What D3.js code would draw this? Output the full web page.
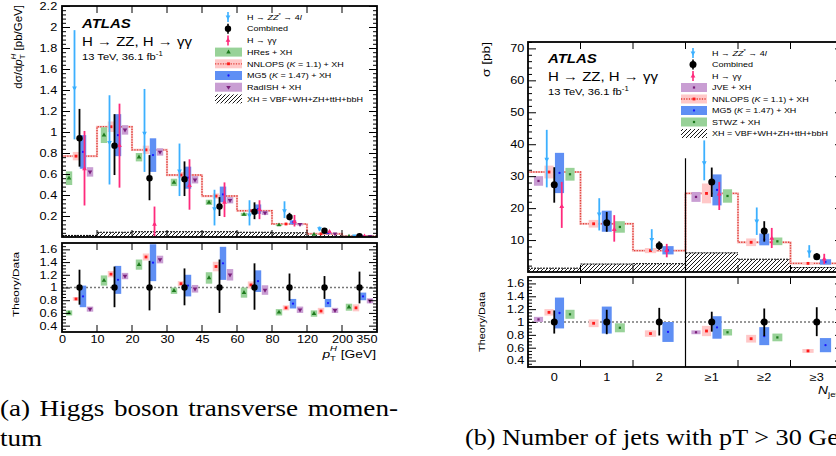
<!DOCTYPE html>
<html><head><meta charset="utf-8">
<script src="https://cdn.jsdelivr.net/npm/d3@7"></script>
<style>body{margin:0;background:#fff}svg{display:block}</style>
</head><body><svg id="c" width="836" height="456" style="font-family:'Liberation Sans',Arial,sans-serif"></svg>
<script>
// ---------------- DATA ----------------
const ptEdgeLabels = ["0","10","20","30","45","60","80","120","200","350"];
const njetLabels = ["0","1","2","≥1","≥2","≥3"];

// (a) d sigma / d pT  [pb/GeV], 9 bins
const aComb   = [0.94,0.87,0.56,0.55,0.29,0.24,0.19,0.060,0.008];
const aCombLo = [0.67,0.59,0.35,0.39,0.20,0.17,0.16,0.050,0.006];
const aCombHi = [1.22,1.17,0.78,0.72,0.38,0.33,0.23,0.070,0.010];
const aZZ     = [1.42,0.90,0.99,0.63,0.27,0.21,0.25,0.080,0.010];
const aZZLo   = [0.93,0.50,0.62,0.39,0.11,0.11,0.18,0.060,0.006];
const aZZHi   = [1.97,1.35,1.41,0.89,0.45,0.35,0.34,0.100,0.014];
const aGG     = [0.65,0.87,0.12,0.49,0.33,0.26,0.146,0.050,0.007];
const aGGLo   = [0.30,0.47,0.00,0.26,0.19,0.17,0.10,0.040,0.005];
const aGGHi   = [1.01,1.27,0.29,0.74,0.52,0.35,0.21,0.060,0.009];
const aHRes      = [0.56,0.97,0.76,0.52,0.33,0.215,0.114,0.025,0.005];
const aHResErr   = [0.065,0.075,0.04,0.035,0.025,0.015,0.008,0.004,0.001];
const aNNLOPS    = [0.77,1.05,0.83,0.59,0.39,0.25,0.124,0.030,0.005];
const aNNLOPSErr = [0.04,0.05,0.04,0.03,0.025,0.012,0.008,0.004,0.001];
const aMG5       = [0.81,0.97,0.78,0.565,0.405,0.265,0.14,0.035,0.007];
const aMG5Err    = [0.16,0.20,0.16,0.105,0.075,0.045,0.02,0.006,0.0015];
const aRadISH    = [0.62,1.02,0.81,0.545,0.35,0.23,0.12,0.030,0.006];
const aRadISHErr = [0.045,0.045,0.035,0.035,0.03,0.02,0.01,0.004,0.001];
const aXH        = [0.015,0.045,0.05,0.05,0.05,0.045,0.04,0.03,0.01];
// (a) ratio Theory/Data
const aRHRes   = [0.60,1.11,1.36,0.95,1.15,0.92,0.61,0.59,0.69];
const aRHResE  = [0.04,0.08,0.08,0.05,0.09,0.08,0.05,0.05,0.055];
const aRNNLOPS = [0.82,1.21,1.48,1.06,1.33,1.04,0.68,0.63,0.68];
const aRNNLOPSE= [0.03,0.05,0.055,0.04,0.075,0.055,0.04,0.05,0.055];
const aRMG5    = [0.86,1.12,1.39,1.03,1.38,1.10,0.745,0.755,0.86];
const aRMG5E   = [0.17,0.22,0.29,0.17,0.26,0.17,0.075,0.065,0.06];
const aRRadISH = [0.66,1.18,1.44,0.98,1.20,0.96,0.65,0.64,0.79];
const aRRadISHE= [0.04,0.05,0.06,0.06,0.09,0.075,0.05,0.04,0.04];
const aRCombLo = [0.73,0.69,0.64,0.72,0.60,0.65,0.79,0.82,0.75];
const aRCombHi = [1.28,1.33,1.42,1.30,1.44,1.38,1.22,1.18,1.25];

// (b) sigma [pb], 6 categories
const bComb   = [27.3,15.4,8.2,28.2,12.8,4.8];
const bCombLo = [21.7,12.6,6.9,23.5,9.5,3.9];
const bCombHi = [32.8,18.8,9.6,32.7,15.9,5.9];
const bZZ     = [35.3,18.2,10.2,34.2,16.0,6.3];
const bZZLo   = [26.5,13.0,6.7,28.7,11.6,4.5];
const bZZHi   = [44.5,23.1,13.4,41.2,20.2,8.4];
const bGG     = [20.5,13.3,6.7,24.4,10.5,4.0];
const bGGLo   = [13.8,9.5,4.6,19.4,7.5,2.5];
const bGGHi   = [28.2,17.8,8.8,28.2,13.8,5.7];
const bJVE       = [28.5,null,null,23.5,null,null];
const bJVEErr    = [1.5,null,null,1.55,null,null];
const bNNLOPS    = [31.3,15.1,6.7,24.6,9.3,2.7];
const bNNLOPSErr = [2.0,1.2,0.8,3.1,1.2,0.4];
const bMG5       = [31.0,15.9,6.8,25.7,10.2,3.15];
const bMG5Err    = [6.3,3.3,1.3,4.85,1.85,0.85];
const bSTWZ      = [30.6,14.1,null,23.8,9.6,null];
const bSTWZErr   = [2.0,1.8,null,2.1,1.2,null];
const bXH        = [1.2,2.5,2.6,6.0,4.0,1.4];
// (b) ratio
const bRJVE     = [1.04,null,null,0.84,null,null];
const bRJVEE    = [0.04,null,null,0.03,null,null];
const bRNNLOPS  = [1.15,0.98,0.82,0.86,0.74,0.55];
const bRNNLOPSE = [0.05,0.06,0.05,0.08,0.06,0.03];
const bRMG5     = [1.14,1.03,0.845,0.915,0.78,0.64];
const bRMG5E    = [0.24,0.21,0.155,0.175,0.14,0.11];
const bRSTWZ    = [1.12,0.91,null,0.84,0.76,null];
const bRSTWZE   = [0.07,0.07,null,0.05,0.06,null];
const bRCombLo  = [0.82,0.81,0.79,0.85,0.78,0.78];
const bRCombHi  = [1.18,1.19,1.22,1.16,1.21,1.23];

const legendA = ["H → ZZ* → 4l","Combined","H → γγ","HRes + XH","NNLOPS (K = 1.1) + XH","MG5 (K = 1.47) + XH","RadISH + XH","XH = VBF+WH+ZH+ttH+bbH"];
const legendB = ["H → ZZ* → 4l","Combined","H → γγ","JVE + XH","NNLOPS (K = 1.1) + XH","MG5 (K = 1.47) + XH","STWZ + XH","XH = VBF+WH+ZH+ttH+bbH"];
const captionA1 = ["(a)","Higgs","boson","transverse","momen-"];
const captionA2 = "tum";
const captionB = "(b) Number of jets with pT > 30 GeV";

// ---------------- STYLE ----------------
const COL = {zz:"#3cb0ff", gg:"#ff2a7c", comb:"#000",
  green:"#98d298", greenM:"#1d7a1d", red:"#ffc8c8", redM:"#ff1a1a", redLine:"#e2403a",
  blue:"#5f8ff4", blueM:"#1a1aff", purple:"#c99ed3", purpleM:"#7a1f7a"};
const SX = 1.2;
const SANS = "'Liberation Sans',Arial,sans-serif", SERIF = "'Liberation Serif','Times New Roman',serif";
const svg = d3.select("#c");
const defs = svg.append("defs");
defs.append("pattern").attr("id","hatch").attr("patternUnits","userSpaceOnUse")
  .attr("width",4).attr("height",4)
  .append("path").attr("d","M-1,1 l2,-2 M0,4 l4,-4 M3,5 l2,-2")
  .attr("stroke","#000").attr("stroke-width",0.9);

function stext(parent, x, y, o){
  const g = parent.append("g").attr("transform",`translate(${x},${y})`+(o.rot?` rotate(${o.rot})`:"")+` scale(${o.sx??SX},1)`);
  const t = g.append("text").attr("font-size",o.size).attr("text-anchor",o.anchor||"start").attr("fill","#000")
    .style("font-family", o.family||SANS);
  if(o.weight) t.attr("font-weight",o.weight);
  if(o.italic) t.attr("font-style","italic");
  if(o.len) t.attr("textLength",o.len).attr("lengthAdjust","spacingAndGlyphs");
  (o.parts||[{t:o.text}]).forEach(p=>{
    const s=t.append("tspan").text(p.t);
    if(p.i) s.attr("font-style","italic");
    if(p.fs) s.attr("font-size",p.fs);
    if(p.dy) s.attr("dy",p.dy);
    if(p.dx) s.attr("dx",p.dx);
  });
  return t;
}
function richLegend(s){
  if(s.startsWith("H → ZZ*")) return [{t:"H → "},{t:"ZZ",i:1},{t:"*",fs:5,dy:-3},{t:" → 4",dy:3},{t:"l",i:1}];
  const m = s.match(/^(.*\()K( = .*)$/);
  if(m) return [{t:m[1]},{t:"K",i:1},{t:m[2]}];
  return [{t:s}];
}
function marker(g, type, x, y, color, size){
  let d, rot="";
  if(type==="up") d=d3.symbol().type(d3.symbolTriangle).size(size)();
  else if(type==="down"){ d=d3.symbol().type(d3.symbolTriangle).size(size)(); rot=" rotate(180)"; }
  else if(type==="sq") d=d3.symbol().type(d3.symbolSquare).size(size)();
  else d=d3.symbol().type(d3.symbolCircle).size(size)();
  g.append("path").attr("d",d).attr("transform",`translate(${x},${y})${rot}`).attr("fill",color);
}
function cleanAxis(sel, fs){
  sel.attr("font-family",null).attr("font-size",null);
  sel.select(".domain").remove();
  sel.selectAll("line").attr("stroke","#000").attr("stroke-width",1);
  sel.selectAll("text").attr("fill","#000").attr("font-size",fs).style("font-family",SANS);
}
const fmt1 = d => d3.format(".1f")(d).replace(/\.0$/,"");
const boxW = step => Math.min(step*0.92, 6+step*0.3);

function drawPanel(P){
  const g = svg.append("g");
  const nB = P.nBins;
  const x = d3.scaleBand().domain(d3.range(nB)).range([P.left,P.right]);
  const xe = d3.scaleLinear().domain([0,nB]).range([P.left,P.right]);
  const w = x.bandwidth();
  const y = d3.scaleLinear().domain([0,P.yMax]).range([P.mainBot,P.mainTop]);
  const yr = d3.scaleLinear().domain([0.3,1.7]).range([P.ratBot,P.ratTop]);
  const clipM = "clipM"+P.id, clipR="clipR"+P.id;
  defs.append("clipPath").attr("id",clipM).append("rect").attr("x",P.left).attr("y",P.mainTop).attr("width",P.right-P.left).attr("height",P.mainBot-P.mainTop);
  defs.append("clipPath").attr("id",clipR).append("rect").attr("x",P.left).attr("y",P.ratTop).attr("width",P.right-P.left).attr("height",P.ratBot-P.ratTop);
  const gm = g.append("g").attr("clip-path",`url(#${clipM})`);
  const gr = g.append("g").attr("clip-path",`url(#${clipR})`);

  gm.selectAll("rect.xh").data(P.xh).join("rect").attr("x",(d,i)=>x(i)).attr("width",w)
    .attr("y",d=>y(d)).attr("height",d=>y(0)-y(d)).attr("fill","url(#hatch)");
  gm.selectAll("line.xh").data(P.xh).join("line").attr("x1",(d,i)=>x(i)).attr("x2",(d,i)=>x(i)+w)
    .attr("y1",d=>y(d)).attr("y2",d=>y(d)).attr("stroke","#000").attr("stroke-width",1).attr("stroke-dasharray","2,1");
  const stepPts = P.step.map((v,i)=>[xe(i),y(v)]).concat([[xe(nB),y(P.step[nB-1])]]);
  const line = d3.line().curve(d3.curveStepAfter);
  gm.append("path").attr("d",line(stepPts)).attr("fill","none").attr("stroke","#f7c0c0").attr("stroke-width",2.2);
  gm.append("path").attr("d",line(stepPts)).attr("fill","none").attr("stroke",COL.redLine).attr("stroke-width",1.4).attr("stroke-dasharray","1.3,1.3");
  if(P.sep!=null){
    g.append("line").attr("x1",xe(P.sep)).attr("x2",xe(P.sep)).attr("y1",y(P.sepTop)).attr("y2",P.mainBot).attr("stroke","#000").attr("stroke-width",1.2);
    g.append("line").attr("x1",xe(P.sep)).attr("x2",xe(P.sep)).attr("y1",P.ratTop).attr("y2",P.ratBot).attr("stroke","#000").attr("stroke-width",1.2);
  }
  gr.append("line").attr("x1",P.left).attr("x2",P.right).attr("y1",yr(1)).attr("y2",yr(1))
    .attr("stroke","#777").attr("stroke-width",1.4).attr("stroke-dasharray","2,2");

  function models(gg, ys, list){
    for(let b=0;b<nB;b++){
      const pres = list.filter(m=>m.c[b]!=null);
      const n = pres.length, st = w/(n+1), bw = boxW(st);
      pres.forEach((m,i)=>{
        const cx = x(b)+(i+1)*st;
        gg.append("rect").attr("x",cx-bw/2).attr("width",bw)
          .attr("y",ys(m.c[b]+m.e[b])).attr("height",ys(m.c[b]-m.e[b])-ys(m.c[b]+m.e[b])).attr("fill",m.fill);
        marker(gg,m.sym,cx,ys(m.c[b]),m.mc,m.ms);
      });
    }
  }
  models(gm, y, P.models);
  models(gr, yr, P.rmodels);

  function pts(gg, ys, c, lo, hi, off, color, type, size, ew){
    c.forEach((v,b)=>{
      const cx = x(b)+w/2+off;
      gg.append("line").attr("x1",cx).attr("x2",cx).attr("y1",ys(hi[b])).attr("y2",ys(lo[b])).attr("stroke",color).attr("stroke-width",ew);
      if(type==="circ") gg.append("circle").attr("cx",cx).attr("cy",ys(v)).attr("r",size).attr("fill",color);
      else { marker(gg,type,cx,ys(v),color,size);
        gg.append("line").attr("x1",cx-1.5).attr("x2",cx+1.5).attr("y1",ys(v)).attr("y2",ys(v)).attr("stroke",color).attr("stroke-width",1); }
    });
  }
  pts(gm, y, P.zz, P.zzLo, P.zzHi, -w/7, COL.zz, "down", 10, 1.8);
  pts(gm, y, P.gg, P.ggLo, P.ggHi, w/7, COL.gg, "up", 10, 1.8);
  pts(gm, y, P.comb, P.combLo, P.combHi, 0, COL.comb, "circ", P.r, 1.8);
  pts(gr, yr, P.comb.map(()=>1), P.rLo, P.rHi, 0, COL.comb, "circ", P.r, 1.8);

  [[P.mainTop,P.mainBot],[P.ratTop,P.ratBot]].forEach(([t,b])=>{
    g.append("rect").attr("x",P.left).attr("y",t).attr("width",P.right-P.left).attr("height",b-t)
      .attr("fill","none").attr("stroke","#000").attr("stroke-width",1.8);
  });
  const TF = P.tickFs;
  function yAx(ys, majors, minors, labels){
    const L = g.append("g").attr("transform",`translate(${P.left},0)`)
      .call(d3.axisLeft(ys).tickValues(majors).tickSize(-8).tickPadding(P.yPad).tickFormat(labels?fmt1:""));
    cleanAxis(L, TF);
    L.selectAll("text").attr("transform",`scale(${SX},1)`);
    cleanAxis(g.append("g").attr("transform",`translate(${P.left},0)`).call(d3.axisLeft(ys).tickValues(minors).tickSize(-4).tickFormat("")),TF);
    cleanAxis(g.append("g").attr("transform",`translate(${P.right},0)`).call(d3.axisRight(ys).tickValues(majors).tickSize(-8).tickFormat("")),TF);
    cleanAxis(g.append("g").attr("transform",`translate(${P.right},0)`).call(d3.axisRight(ys).tickValues(minors).tickSize(-4).tickFormat("")),TF);
  }
  yAx(y, P.yMajors, P.yMinors, true);
  const rMaj = d3.range(2,9).map(i=>i*0.2), rMin = d3.range(7,34).map(i=>i*0.05).filter(v=>Math.abs(v*5-Math.round(v*5))>1e-6);
  yAx(yr, rMaj, rMin, true);
  const inner = d3.range(1,nB);
  [[P.mainBot,-7],[P.mainTop,7],[P.ratBot,-7],[P.ratTop,7]].forEach(([yy,s])=>{
    g.append("g").selectAll("line").data(inner).join("line").attr("x1",d=>xe(d)).attr("x2",d=>xe(d))
      .attr("y1",yy).attr("y2",yy+s).attr("stroke","#000").attr("stroke-width",1);
  });
  if(P.edgeLabels){
    const ax = g.append("g").attr("transform",`translate(0,${P.ratBot})`)
      .call(d3.axisBottom(xe).tickValues(d3.range(nB+1)).tickSize(0).tickPadding(P.xPad).tickFormat(i=>P.edgeLabels[i]));
    cleanAxis(ax, TF);
    ax.selectAll("line").remove();
    ax.selectAll("text").attr("transform",`scale(${SX},1)`).filter((d,i)=>i===nB).attr("text-anchor","end").attr("x",0);
  } else {
    const ax = g.append("g").attr("transform",`translate(0,${P.ratBot})`)
      .call(d3.axisBottom(x).tickSize(0).tickPadding(P.xPad).tickFormat(i=>P.catLabels[i]));
    cleanAxis(ax, TF);
    ax.selectAll("line").remove();
    ax.selectAll("text").attr("transform",`scale(${SX},1)`);
  }
  stext(g, P.left+P.atlasDx, P.mainTop+P.atlasDy, {size:12.5, weight:"bold", italic:true, text:"ATLAS"});
  stext(g, P.left+P.atlasDx, P.mainTop+P.atlasDy+18, {size:12.5, text:"H → ZZ, H → γγ"});
  stext(g, P.left+P.atlasDx, P.mainTop+P.atlasDy+32, {size:9.3, parts:[{t:"13 TeV, 36.1 fb"},{t:"-1",fs:6.5,dy:-4}]});
  const LG = P.legend;
  LG.labels.forEach((lab,i)=>{
    const yy = LG.y0 + i*LG.dy;
    const key = LG.keys[i];
    if(key.type==="pt"){
      g.append("line").attr("x1",LG.mx).attr("x2",LG.mx).attr("y1",yy-5).attr("y2",yy+5).attr("stroke",key.color).attr("stroke-width",1.6);
      if(key.sym==="circ") g.append("circle").attr("cx",LG.mx).attr("cy",yy).attr("r",P.r).attr("fill",key.color);
      else marker(g,key.sym,LG.mx,yy,key.color,10);
    } else if(key.type==="box"){
      g.append("rect").attr("x",LG.bx).attr("y",yy-4.5).attr("width",LG.bw).attr("height",9).attr("fill",key.fill);
      if(key.line) g.append("line").attr("x1",LG.bx).attr("x2",LG.bx+LG.bw).attr("y1",yy).attr("y2",yy).attr("stroke",COL.redLine).attr("stroke-width",1.3).attr("stroke-dasharray","1.3,1.3");
      marker(g,key.sym,LG.bx+LG.bw/2,yy,key.mc,key.ms);
    } else {
      g.append("rect").attr("x",LG.bx).attr("y",yy-4.5).attr("width",LG.bw).attr("height",9).attr("fill","url(#hatch)");
    }
    stext(g, LG.tx, yy+2.7, {size:7.5, parts:richLegend(lab)});
  });
  P.titles(g);
}

const modelsA = [
  {c:aHRes,e:aHResErr,fill:COL.green,mc:COL.greenM,sym:"up",ms:9},
  {c:aNNLOPS,e:aNNLOPSErr,fill:COL.red,mc:COL.redM,sym:"sq",ms:8},
  {c:aMG5,e:aMG5Err,fill:COL.blue,mc:COL.blueM,sym:"dot",ms:4},
  {c:aRadISH,e:aRadISHErr,fill:COL.purple,mc:COL.purpleM,sym:"down",ms:9}];
const rmodelsA = [
  {c:aRHRes,e:aRHResE,fill:COL.green,mc:COL.greenM,sym:"up",ms:9},
  {c:aRNNLOPS,e:aRNNLOPSE,fill:COL.red,mc:COL.redM,sym:"sq",ms:8},
  {c:aRMG5,e:aRMG5E,fill:COL.blue,mc:COL.blueM,sym:"dot",ms:4},
  {c:aRRadISH,e:aRRadISHE,fill:COL.purple,mc:COL.purpleM,sym:"down",ms:9}];
const modelsB = [
  {c:bJVE,e:bJVEErr,fill:COL.purple,mc:COL.purpleM,sym:"sq",ms:5},
  {c:bNNLOPS,e:bNNLOPSErr,fill:COL.red,mc:COL.redM,sym:"sq",ms:8},
  {c:bMG5,e:bMG5Err,fill:COL.blue,mc:COL.blueM,sym:"dot",ms:4},
  {c:bSTWZ,e:bSTWZErr,fill:COL.green,mc:COL.greenM,sym:"sq",ms:5}];
const rmodelsB = [
  {c:bRJVE,e:bRJVEE,fill:COL.purple,mc:COL.purpleM,sym:"sq",ms:5},
  {c:bRNNLOPS,e:bRNNLOPSE,fill:COL.red,mc:COL.redM,sym:"sq",ms:8},
  {c:bRMG5,e:bRMG5E,fill:COL.blue,mc:COL.blueM,sym:"dot",ms:4},
  {c:bRSTWZ,e:bRSTWZE,fill:COL.green,mc:COL.greenM,sym:"sq",ms:5}];

const ptKeys = [{type:"pt",color:COL.zz,sym:"down"},{type:"pt",color:"#000",sym:"circ"},{type:"pt",color:COL.gg,sym:"up"}];
drawPanel({id:"a", nBins:9, left:62, right:377, mainTop:6, mainBot:237, ratTop:243, ratBot:332, yMax:2.2, r:3.2,
  yMajors:d3.range(1,12).map(i=>i*0.2), yMinors:d3.range(0,56).map(i=>i*0.04).filter(v=>v<=2.2 && Math.abs(v*5-Math.round(v*5))>1e-6),
  yPad:4, xPad:3, tickFs:10.6, edgeLabels:ptEdgeLabels,
  comb:aComb, combLo:aCombLo, combHi:aCombHi, zz:aZZ, zzLo:aZZLo, zzHi:aZZHi, gg:aGG, ggLo:aGGLo, ggHi:aGGHi,
  rLo:aRCombLo, rHi:aRCombHi, xh:aXH, step:aNNLOPS, models:modelsA, rmodels:rmodelsA,
  atlasDx:20, atlasDy:22,
  legend:{labels:legendA, y0:17, dy:11.7, mx:228, bx:215, bw:27, tx:247,
    keys:ptKeys.concat([
      {type:"box",fill:COL.green,mc:COL.greenM,sym:"up",ms:9},
      {type:"box",fill:COL.red,mc:COL.redM,sym:"sq",ms:8,line:true},
      {type:"box",fill:COL.blue,mc:COL.blueM,sym:"dot",ms:4},
      {type:"box",fill:COL.purple,mc:COL.purpleM,sym:"down",ms:9},
      {type:"hatch"}])},
  titles:g=>{
    stext(g, 22, 5, {size:11.5, rot:-90, sx:1, anchor:"end", parts:[{t:"dσ/d"},{t:"p",i:1},{t:"T",fs:8,dy:3},{t:"H",fs:8,i:1,dx:-5,dy:-9},{t:" [pb/GeV]",dy:6}]});
    stext(g, 19, 284.5, {size:9, rot:-90, sx:1, anchor:"middle", len:65, text:"Theory/Data"});
    stext(g, 376, 358, {size:11.5, anchor:"end", parts:[{t:"p",i:1},{t:"T",fs:8,dy:3},{t:"H",fs:8,i:1,dx:-5,dy:-10},{t:" [GeV]",dy:7}]});
  }
});
drawPanel({id:"b", nBins:6, left:528, right:843, mainTop:42, mainBot:272, ratTop:277, ratBot:367, yMax:72, r:3.5,
  yMajors:d3.range(1,8).map(i=>i*10), yMinors:d3.range(0,37).map(i=>i*2).filter(v=>v%10!==0),
  yPad:3, xPad:6, tickFs:10.6, catLabels:njetLabels, sep:3, sepTop:35.6,
  comb:bComb, combLo:bCombLo, combHi:bCombHi, zz:bZZ, zzLo:bZZLo, zzHi:bZZHi, gg:bGG, ggLo:bGGLo, ggHi:bGGHi,
  rLo:bRCombLo, rHi:bRCombHi, xh:bXH, step:bNNLOPS, models:modelsB, rmodels:rmodelsB,
  atlasDx:20, atlasDy:21,
  legend:{labels:legendB, y0:53, dy:11.5, mx:693, bx:681, bw:26, tx:712,
    keys:ptKeys.concat([
      {type:"box",fill:COL.purple,mc:COL.purpleM,sym:"sq",ms:5},
      {type:"box",fill:COL.red,mc:COL.redM,sym:"sq",ms:8,line:true},
      {type:"box",fill:COL.blue,mc:COL.blueM,sym:"dot",ms:4},
      {type:"box",fill:COL.green,mc:COL.greenM,sym:"sq",ms:5},
      {type:"hatch"}])},
  titles:g=>{
    stext(g, 489.5, 42, {size:11.5, rot:-90, sx:1, anchor:"end", len:35, text:"σ [pb]"});
    stext(g, 485, 322, {size:9, rot:-90, sx:1, anchor:"middle", len:60, text:"Theory/Data"});
    stext(g, 843, 394, {size:11.5, anchor:"end", parts:[{t:"N",i:1},{t:"jets",fs:8,dy:3}]});
  }
});

// captions
const cap = svg.append("g");
(function(){
  const fs=22.6, y1=416, y2=446, lineW=398;
  const tmp = captionA1.map(w=>{
    const t = stext(cap, 0, y1, {size:fs, family:SERIF, text:w});
    return {t, len:t.node().getComputedTextLength()*SX};
  });
  const total = d3.sum(tmp,d=>d.len), gap=(lineW-total)/(tmp.length-1);
  let xx=0;
  tmp.forEach(d=>{ d3.select(d.t.node().parentNode).attr("transform",`translate(${xx},${y1}) scale(${SX},1)`); xx+=d.len+gap; });
  stext(cap, 0, y2, {size:fs, family:SERIF, text:captionA2});
  stext(cap, 465, y2-1, {size:fs, family:SERIF, sx:1.16, text:captionB});
})();
</script></body></html>
